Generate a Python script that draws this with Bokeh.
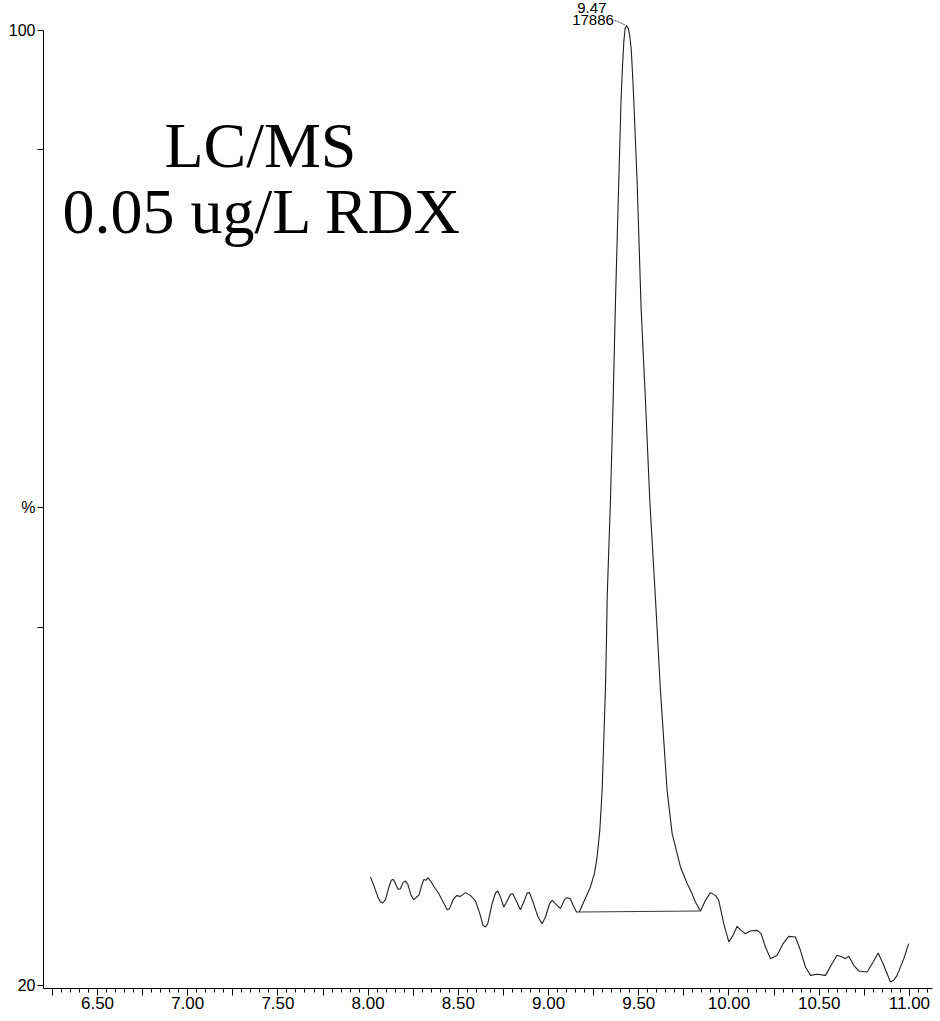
from bokeh.plotting import figure
from bokeh.models import FixedTicker, Label, Range1d, PrintfTickFormatter
from bokeh.embed import file_html
from bokeh.resources import INLINE

# ---- data ----
rt = [8.013, 8.031, 8.054, 8.068, 8.081, 8.096, 8.115, 8.128, 8.139, 8.152,
      8.166, 8.179, 8.194, 8.207, 8.220, 8.238, 8.253, 8.268, 8.281, 8.294,
      8.309, 8.320, 8.331, 8.346, 8.364, 8.392, 8.419, 8.438, 8.451, 8.471,
      8.490, 8.512, 8.539, 8.567, 8.595, 8.619, 8.637, 8.650, 8.663, 8.687,
      8.706, 8.719, 8.733, 8.752, 8.767, 8.789, 8.802, 8.818, 8.844, 8.863,
      8.881, 8.894, 8.914, 8.940, 8.964, 8.983, 9.007, 9.020, 9.038, 9.066,
      9.088, 9.103, 9.121, 9.136, 9.155, 9.170,
      9.195, 9.232, 9.254, 9.269, 9.284, 9.297, 9.306, 9.315, 9.321, 9.325,
      9.343, 9.358, 9.371, 9.389, 9.402, 9.410, 9.417, 9.424, 9.432,
      9.441, 9.450, 9.458, 9.465, 9.472, 9.491, 9.513, 9.537, 9.561, 9.592,
      9.620, 9.657, 9.685, 9.731, 9.768, 9.795, 9.814, 9.842,
      9.870, 9.897, 9.925, 9.943, 9.971, 9.999, 10.023, 10.045, 10.067, 10.091,
      10.119, 10.156, 10.178, 10.202, 10.230, 10.267, 10.300, 10.331, 10.368,
      10.396, 10.424, 10.452, 10.488, 10.535, 10.566, 10.599, 10.627, 10.645,
      10.664, 10.692, 10.719, 10.766, 10.799, 10.827, 10.854, 10.895, 10.913,
      10.932, 10.969, 10.996]
intensity = [29.09, 28.39, 27.42, 27.02, 26.91, 27.19, 28.25, 28.81, 28.89, 28.53,
             28.06, 28.11, 28.64, 28.75, 28.48, 27.55, 27.19, 27.41, 27.55, 28.25,
             28.89, 28.81, 29.03, 28.75, 28.31, 27.69, 26.91, 26.35, 26.44, 27.19,
             27.53, 27.47, 27.78, 27.55, 27.08, 26.02, 25.04, 24.90, 25.18, 26.86,
             27.75, 27.92, 27.42, 26.58, 26.99, 27.64, 27.69, 27.19, 26.35, 26.99,
             27.75, 27.78, 26.99, 25.80, 25.18, 25.74, 26.91, 27.14, 26.86, 26.44,
             27.19, 27.36, 27.27, 26.72, 26.16, 26.16,
             27.00, 28.25, 29.37, 30.76, 33.00, 36.35, 40.54, 44.72, 48.91, 52.54,
             60.64, 69.01, 77.39, 87.29, 94.28, 97.07, 99.02, 100.14, 100.42,
             100.19, 99.58, 98.47, 96.51, 94.28, 87.29, 76.72, 69.01, 60.64, 52.54,
             44.72, 36.35, 32.72, 29.93, 28.54, 27.70, 27.00, 26.24,
             27.14, 27.78, 27.55, 27.14, 25.18, 23.65, 24.20, 24.96, 24.62, 24.34,
             24.57, 24.62, 24.34, 23.23, 22.25, 22.53, 23.51, 24.12, 24.06,
             22.95, 21.55, 20.85, 20.94, 20.85, 21.69, 22.53, 22.39, 22.25,
             22.45, 21.69, 21.22, 21.13, 21.97, 22.72, 21.83, 20.30, 20.44,
             20.85, 22.25, 23.51]

baseline_rt = [9.170, 9.842]
baseline_int = [26.16, 26.24]

peak_rt_text = "9.47"
peak_area_text = "17886"
title_lines = ["LC/MS", "0.05 ug/L RDX"]

x_major = [6.25, 6.50, 6.75, 7.00, 7.25, 7.50, 7.75, 8.00, 8.25, 8.50, 8.75,
           9.00, 9.25, 9.50, 9.75, 10.00, 10.25, 10.50, 10.75, 11.00]
x_labeled = [6.50, 7.00, 7.50, 8.00, 8.50, 9.00, 9.50, 10.00, 10.50, 11.00]
x_minor = [round(6.25 + 0.05 * i, 2) for i in range(0, 98)]
y_ticks = [20, 50, 60, 90, 100]
y_tick_labels = {20: "20", 50: "", 60: "%", 90: "", 100: "100"}

# ---- figure ----
p = figure(width=940, height=1021, output_backend="svg", toolbar_location=None,
           x_range=Range1d(6.2007, 11.128), y_range=Range1d(19.75, 102.51),
           min_border_left=43, min_border_right=8, min_border_top=0,
           min_border_bottom=33)
p.outline_line_color = None
p.xgrid.visible = False
p.ygrid.visible = False
p.background_fill_color = "white"
p.border_fill_color = "white"

# trace
p.line(rt, intensity, line_color="#1e1e1e", line_width=1.1)
# integration baseline
p.line(baseline_rt, baseline_int, line_color="#3a3a3a", line_width=1.1)
# leader from label to apex
p.line([9.366, 9.428], [100.85, 100.45], line_color="#444444", line_width=1,
       line_dash="2 1")

# x axis
xa = p.xaxis[0]
xa.ticker = FixedTicker(ticks=x_major, minor_ticks=x_minor)
xa.formatter = PrintfTickFormatter(format="%.2f")
xa.major_label_overrides = {t: "" for t in x_major if t not in x_labeled}
xa.major_tick_in = 0
xa.major_tick_out = 7
xa.minor_tick_in = 0
xa.minor_tick_out = 4
xa.major_label_standoff = 1
xa.major_label_text_font = "Liberation Sans"
xa.major_label_text_font_size = "17px"
xa.major_label_text_color = "black"
xa.axis_line_color = "black"
xa.major_tick_line_color = "black"
xa.minor_tick_line_color = "black"

# y axis
ya = p.yaxis[0]
ya.ticker = FixedTicker(ticks=y_ticks, minor_ticks=[])
ya.major_label_overrides = y_tick_labels
ya.bounds = (19.75, 100)
ya.major_tick_in = 0
ya.major_tick_out = 6
ya.minor_tick_line_color = None
ya.major_label_standoff = 2
ya.major_label_text_font = "Liberation Sans"
ya.major_label_text_font_size = "16px"
ya.major_label_text_color = "black"
ya.axis_line_color = "black"
ya.major_tick_line_color = "black"

# peak annotation
p.add_layout(Label(x=9.321, y=101.9, text=peak_rt_text, text_align="right",
                   text_baseline="alphabetic", text_font="Liberation Sans",
                   text_font_size="15px", text_color="black"))
p.add_layout(Label(x=9.362, y=100.9, text=peak_area_text, text_align="right",
                   text_baseline="alphabetic", text_font="Liberation Sans",
                   text_font_size="15px", text_color="black"))

# sample title
p.add_layout(Label(x=7.403, y=90.4, text=title_lines[0], text_align="center",
                   text_baseline="alphabetic", text_font="Liberation Serif",
                   text_font_size="64px", text_color="black"))
p.add_layout(Label(x=7.414, y=84.8, text=title_lines[1], text_align="center",
                   text_baseline="alphabetic", text_font="Liberation Serif",
                   text_font_size="64px", text_color="black"))

open("out.html", "w").write(file_html(p, INLINE))
